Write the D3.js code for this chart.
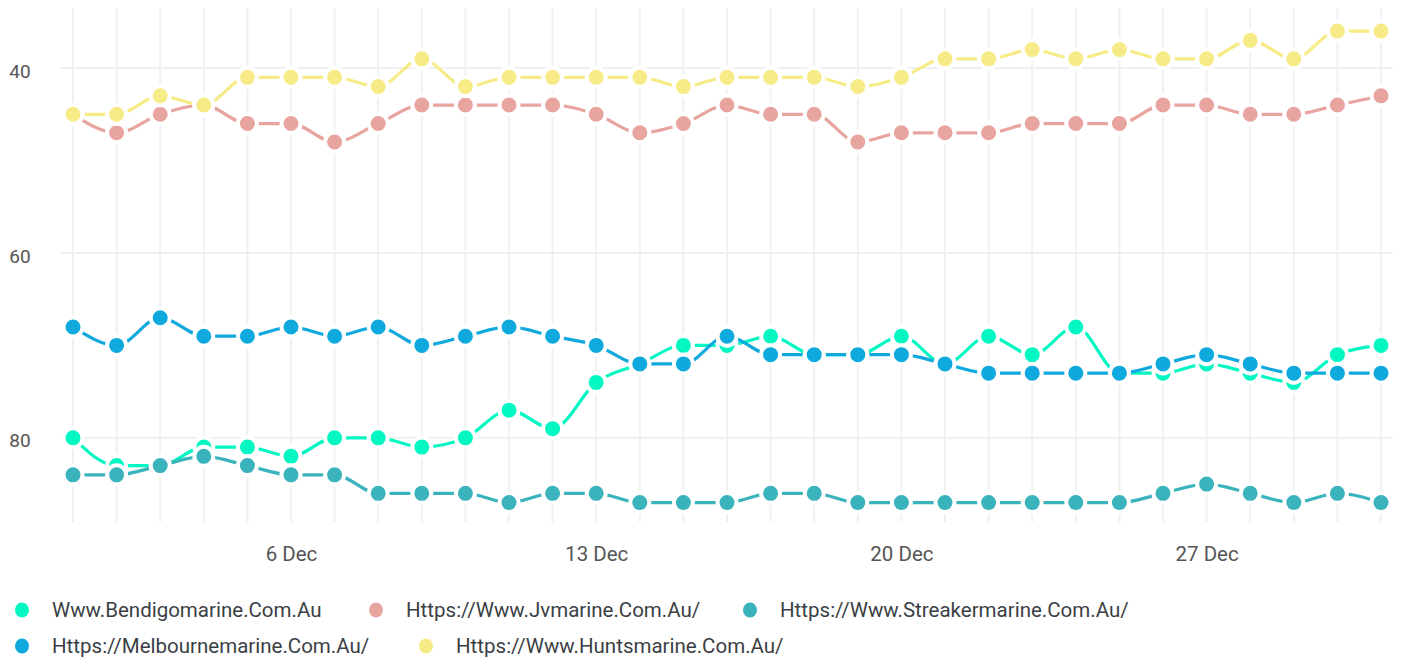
<!DOCTYPE html>
<html>
<head>
<meta charset="utf-8">
<script src="https://cdn.jsdelivr.net/npm/d3@7"></script>
<style>
  body { margin: 0; background: #fff; }
  svg { display: block; font-family: Roboto, sans-serif; }
</style>
</head>
<body>
<div id="chart"></div>
<script>
// data
var days = ["2023-12-01","2023-12-02","2023-12-03","2023-12-04","2023-12-05","2023-12-06","2023-12-07",
  "2023-12-08","2023-12-09","2023-12-10","2023-12-11","2023-12-12","2023-12-13","2023-12-14",
  "2023-12-15","2023-12-16","2023-12-17","2023-12-18","2023-12-19","2023-12-20","2023-12-21",
  "2023-12-22","2023-12-23","2023-12-24","2023-12-25","2023-12-26","2023-12-27","2023-12-28",
  "2023-12-29","2023-12-30","2023-12-31"];

var seriesNames = ["Www.Bendigomarine.Com.Au", "Https://Www.Jvmarine.Com.Au/", "Https://Www.Streakermarine.Com.Au/",
  "Https://Melbournemarine.Com.Au/", "Https://Www.Huntsmarine.Com.Au/"];

var bendigo   = [80,83,83,81,81,82,80,80,81,80,77,79,74,72,70,70,69,71,71,69,72,69,71,68,73,73,72,73,74,71,70];
var jvmarine  = [45,47,45,44,46,46,48,46,44,44,44,44,45,47,46,44,45,45,48,47,47,47,46,46,46,44,44,45,45,44,43];
var streaker  = [84,84,83,82,83,84,84,86,86,86,87,86,86,87,87,87,86,86,87,87,87,87,87,87,87,86,85,86,87,86,87];
var melbourne = [68,70,67,69,69,68,69,68,70,69,68,69,70,72,72,69,71,71,71,71,72,73,73,73,73,72,71,72,73,73,73];
var hunts     = [45,45,43,44,41,41,41,42,39,42,41,41,41,41,42,41,41,41,42,41,39,39,38,39,38,39,39,37,39,36,36];

var colors = ["#03f7c2", "#e8a49f", "#3ab3bd", "#0fa9dd", "#f7eb88"];
var yTicks = [40, 60, 80];
var xTickLabels = ["2023-12-06", "2023-12-13", "2023-12-20", "2023-12-27"];

var width = 1402, height = 659;
var parse = d3.timeParse("%Y-%m-%d");
var dates = days.map(parse);
var allSeries = [bendigo, jvmarine, streaker, melbourne, hunts];

var svg = d3.select("#chart").append("svg")
  .attr("width", width).attr("height", height);

var x = d3.scaleTime().domain(d3.extent(dates)).range([73, 1381]);
var y = d3.scaleLinear().domain([33.5, 89.1]).range([8, 522]);

// grid
svg.append("g").selectAll("line").data(dates).enter().append("line")
  .attr("x1", d => x(d)).attr("x2", d => x(d))
  .attr("y1", 8).attr("y2", 522)
  .attr("stroke", "#f1f1f1").attr("stroke-width", 2);

svg.append("g").selectAll("line").data(yTicks).enter().append("line")
  .attr("x1", 61).attr("x2", 1393)
  .attr("y1", d => y(d)).attr("y2", d => y(d))
  .attr("stroke", "#efefef").attr("stroke-width", 2);

// y axis labels
var yAxis = svg.append("g").attr("transform", "translate(32,3)")
  .call(d3.axisLeft(y).tickValues(yTicks).tickSize(0).tickPadding(0));
yAxis.select(".domain").remove();
yAxis.selectAll("text").attr("font-family", "Roboto, sans-serif").attr("font-size", 19)
  .attr("fill", "#555").attr("text-anchor", "middle").attr("x", -12);

// x axis labels
var xAxis = svg.append("g").attr("transform", "translate(0,546)")
  .call(d3.axisBottom(x).tickValues(xTickLabels.map(parse)).tickFormat(d3.timeFormat("%-d Dec")).tickSize(0).tickPadding(0));
xAxis.select(".domain").remove();
xAxis.selectAll("text").attr("font-family", "Roboto, sans-serif").attr("font-size", 20.5)
  .attr("fill", "#555").attr("dy", "0.71em");

// lines
var line = d3.line()
  .x((d, i) => x(dates[i]))
  .y(d => y(d))
  .curve(d3.curveMonotoneX);

allSeries.forEach(function(s, k) {
  svg.append("path").datum(s)
    .attr("fill", "none")
    .attr("stroke", colors[k])
    .attr("stroke-width", 3.2)
    .attr("d", line);
});

allSeries.forEach(function(s, k) {
  svg.append("g").selectAll("circle").data(s).enter().append("circle")
    .attr("cx", (d, i) => x(dates[i]))
    .attr("cy", d => y(d))
    .attr("r", 9.5)
    .attr("fill", colors[k])
    .attr("stroke", "#fff")
    .attr("stroke-width", 4);
});

// legend
var legendPos = [[22, 610], [376, 610], [750, 610], [22, 646], [426, 646]];
var legend = svg.append("g").selectAll("g").data(seriesNames).enter().append("g")
  .attr("transform", (d, i) => "translate(" + legendPos[i][0] + "," + legendPos[i][1] + ")");
legend.append("ellipse").attr("rx", 7).attr("ry", 7.5).attr("fill", (d, i) => colors[i]);
legend.append("text").attr("x", 30).attr("dy", "0.35em")
  .attr("font-size", 20.5).attr("fill", "#3b3f45")
  .text(d => d);
</script>
</body>
</html>
